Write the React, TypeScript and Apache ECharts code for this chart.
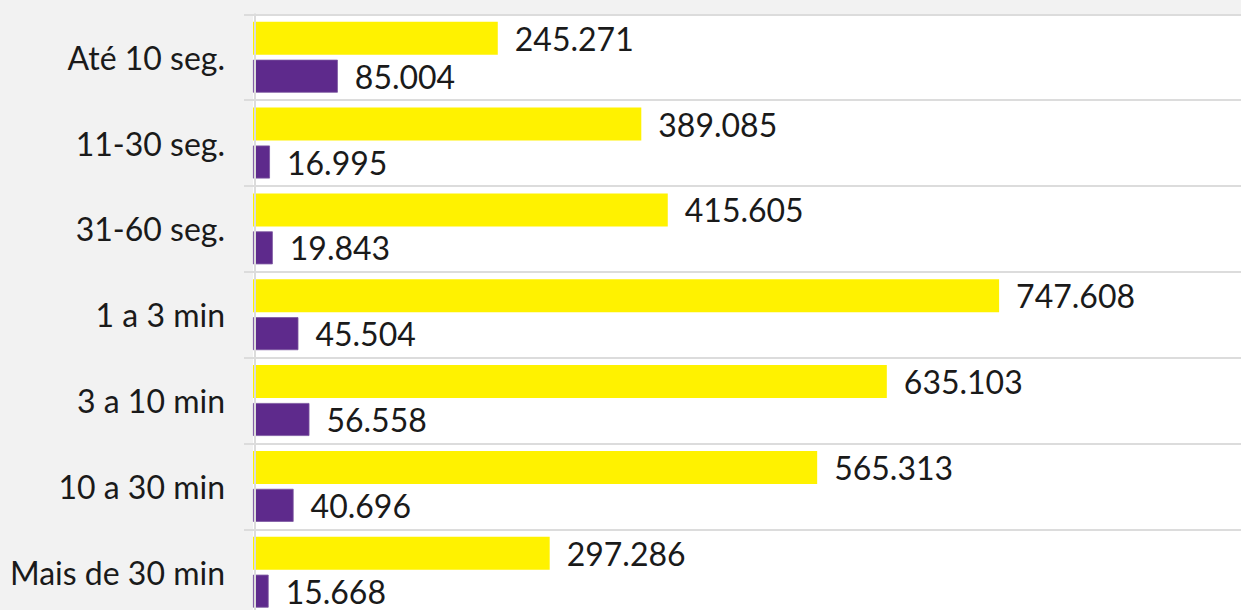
import React, { useEffect, useRef } from "react";
import * as echarts from "echarts";

const categories = [
  "Até 10 seg.",
  "11-30 seg.",
  "31-60 seg.",
  "1 a 3 min",
  "3 a 10 min",
  "10 a 30 min",
  "Mais de 30 min",
];
const seriesAValues = [245271, 389085, 415605, 747608, 635103, 565313, 297286];
const seriesBValues = [85004, 16995, 19843, 45504, 56558, 40696, 15668];

const fmt = (v: number) => String(Math.round(v)).replace(/\B(?=(\d{3})+(?!\d))/g, ".");

export default function App() {
  const ref = useRef<HTMLDivElement>(null);
  useEffect(() => {
    if (!ref.current) return;
    const chart = echarts.init(ref.current, undefined, { renderer: "svg" });
    const labelStyle = {
      show: true,
      position: "right" as const,
      distance: 17,
      color: "#1a1a1a",
      fontFamily: "Lato",
      fontSize: 32,
      formatter: (p: any) => fmt(p.value),
    };
    chart.setOption({
      animation: false,
      backgroundColor: "#f2f2f2",
      textStyle: { fontFamily: "Lato" },
      grid: {
        left: 253,
        right: 0,
        top: 14.3,
        height: 600.8,
        outerBoundsMode: "none",
        show: true,
        backgroundColor: "#ffffff",
        borderWidth: 0,
      },
      xAxis: {
        type: "value",
        min: 0,
        max: 990000,
        show: false,
        splitLine: { show: false },
      },
      yAxis: {
        type: "category",
        data: categories,
        inverse: true,
        offset: -2,
        z: 5,
        axisLine: { show: true, lineStyle: { color: "#dcdcdc", width: 2 } },
        axisTick: { show: true, length: 11, lineStyle: { color: "#dcdcdc", width: 2 } },
        splitLine: { show: true, lineStyle: { color: "#dcdcdc", width: 2 } },
        axisLabel: {
          margin: 30,
          color: "#1a1a1a",
          fontFamily: "Lato",
          fontSize: 32,
        },
      },
      series: [
        {
          name: "Série A",
          type: "bar",
          data: seriesAValues,
          barWidth: 33,
          barGap: "15%",
          itemStyle: { color: "#fff200" },
          label: labelStyle,
        },
        {
          name: "Série B",
          type: "bar",
          data: seriesBValues,
          barWidth: 33,
          barGap: "15%",
          itemStyle: { color: "#5e2a8c", borderColor: "#7b55a0", borderWidth: 0.8 },
          label: labelStyle,
        },
      ],
    });
    return () => chart.dispose();
  }, []);
  return (
    <div
      ref={ref}
      style={{ position: "fixed", left: 0, top: 0, width: 1241, height: 620 }}
    />
  );
}
